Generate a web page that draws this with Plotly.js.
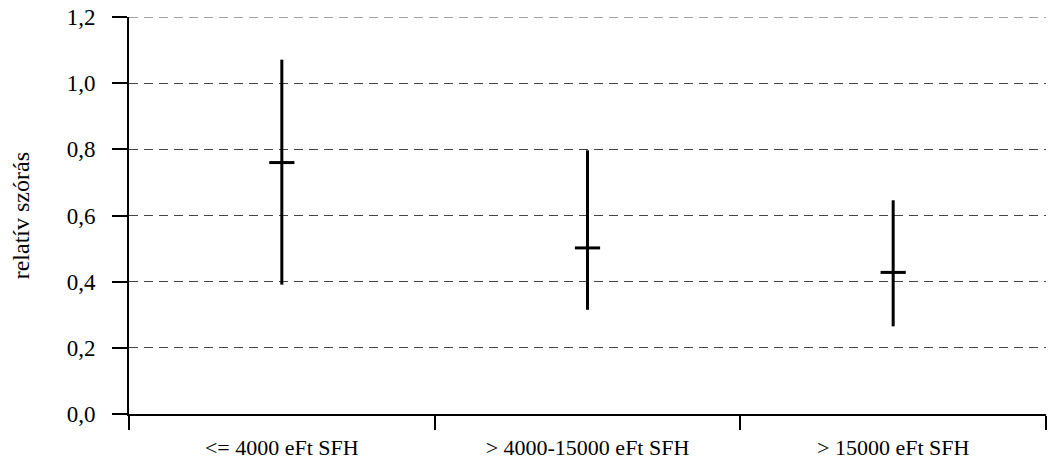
<!DOCTYPE html>
<html>
<head>
<meta charset="utf-8">
<script src="https://cdn.plot.ly/plotly-3.0.1.min.js"></script>
<style>html,body{margin:0;padding:0;background:#fff;}#chart{width:1050px;height:468px;}</style>
</head>
<body>
<div id="chart"></div>
<script>
var categories = ["<= 4000 eFt SFH", "> 4000-15000 eFt SFH", "> 15000 eFt SFH"];
var meanValues = [0.76, 0.502, 0.428];
var highValues = [1.071, 0.797, 0.646];
var lowValues = [0.391, 0.315, 0.265];
var yTickVals = [0, 0.2, 0.4, 0.6, 0.8, 1.0, 1.2];
var yTickText = ["0,0", "0,2", "0,4", "0,6", "0,8", "1,0", "1,2"];
var yTitle = "relatív szórás";

var errPlus = meanValues.map(function(m, i){ return highValues[i] - m; });
var errMinus = meanValues.map(function(m, i){ return m - lowValues[i]; });

var serif = "Liberation Serif, DejaVu Serif, Times New Roman, serif";
var yMax = yTickVals[yTickVals.length - 1];

var trace = {
  type: "scatter",
  mode: "markers",
  x: categories,
  y: meanValues,
  marker: {symbol: "line-ew", size: 18, color: "#000", line: {width: 3, color: "#000"}},
  error_y: {type: "data", symmetric: false, array: errPlus, arrayminus: errMinus, width: 0, thickness: 3, color: "#000"},
  hoverinfo: "x+y",
  showlegend: false
};

var layout = {
  width: 1050, height: 468,
  margin: {l: 129, r: 4, t: 17, b: 54},
  paper_bgcolor: "#fff", plot_bgcolor: "#fff",
  font: {family: serif, color: "#000", size: 20},
  showlegend: false,
  xaxis: {
    type: "category",
    range: [-0.5, 2.5],
    tickson: "boundaries",
    ticks: "outside", ticklen: 14, tickwidth: 2, tickcolor: "#000",
    showline: true, linecolor: "#000", linewidth: 2,
    showgrid: false, zeroline: false,
    tickfont: {family: serif, size: 22, color: "#000"},
    ticklabelstandoff: 13
  },
  yaxis: {
    range: [0, yMax],
    tickvals: yTickVals, ticktext: yTickText,
    ticks: "outside", ticklen: 15, tickwidth: 2, tickcolor: "#000",
    showline: true, linecolor: "#000", linewidth: 2,
    showgrid: true, gridcolor: "#444", griddash: "9px,6px", gridwidth: 1,
    zeroline: false,
    tickfont: {family: serif, size: 23, color: "#000"},
    ticklabelstandoff: 12
  },
  shapes: [{
    type: "line", xref: "paper", yref: "y",
    x0: 0, x1: 1, y0: yMax, y1: yMax,
    line: {color: "#444", width: 1, dash: "9px,6px"}, layer: "below"
  }],
  annotations: [{
    text: yTitle, xref: "paper", yref: "paper",
    x: -0.118, y: 0.5, xanchor: "center", yanchor: "middle",
    textangle: -90, showarrow: false,
    font: {family: serif, size: 24, color: "#000"}
  }]
};

Plotly.newPlot("chart", [trace], layout, {displayModeBar: false, staticPlot: true});
</script>
</body>
</html>
